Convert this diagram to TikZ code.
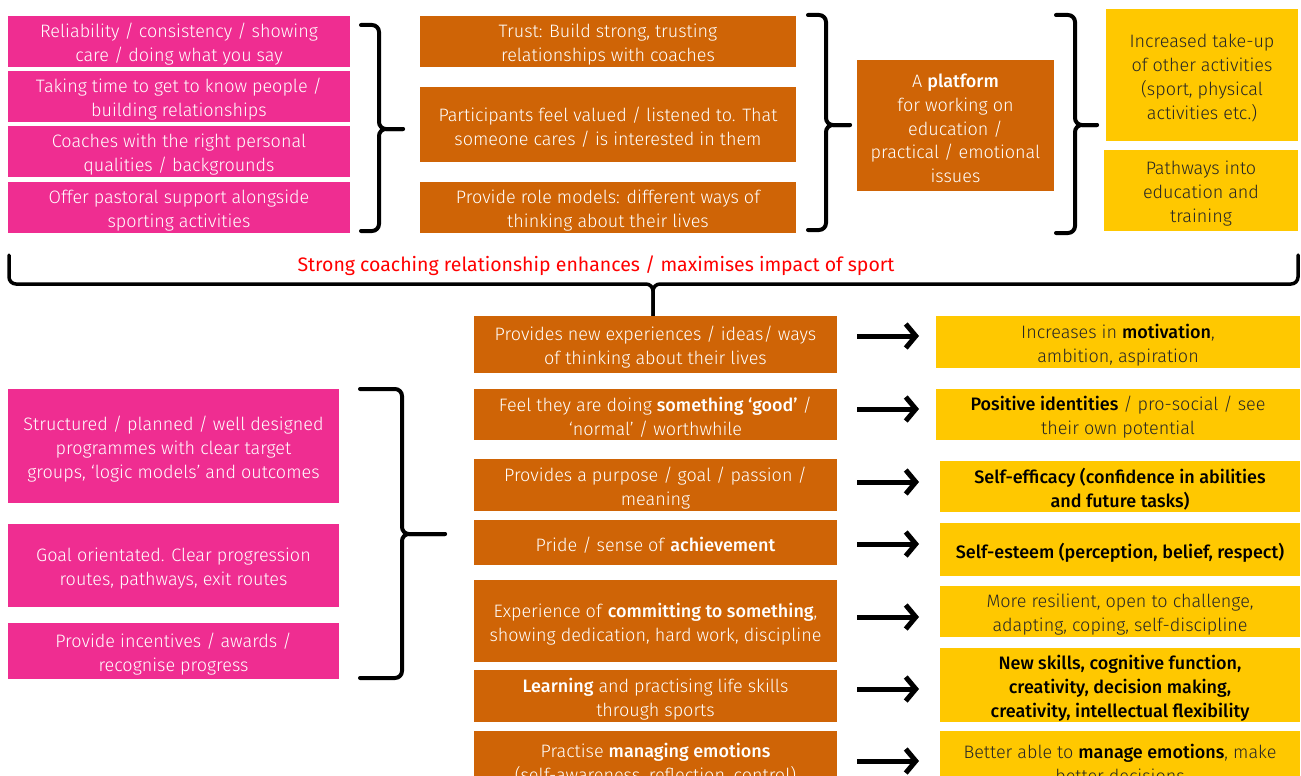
\documentclass[tikz,border=0pt]{standalone}
\usepackage{fontspec}
\setmainfont{Fira Sans}[UprightFont=* Light, BoldFont=* Medium]
\newfontfamily\redfont{Fira Sans}
\usetikzlibrary{arrows.meta}
\definecolor{cpink}{HTML}{EF2D91}
\definecolor{corange}{HTML}{CF6406}
\definecolor{cyellow}{HTML}{FFC800}
\definecolor{cred}{HTML}{FF0000}
\definecolor{cdark}{HTML}{262626}
\newcommand\boxnode[7]{%
  \node[#2, minimum width={(#5-#3)*1pt}, minimum height={(#6-#4)*1pt}] (#1) at ({(#3+#5)/2},{(#4+#6)/2}) {};
  \node[#2, fill=none] (#1t) at ([yshift=-3pt]#1.center) {#7};}
\newcommand\hb[1]{\textcolor{black}{\textbf{#1}}}
\begin{document}
\begin{tikzpicture}[x=1pt,y=-1pt,
  base/.style={inner sep=0pt, outer sep=0pt, align=center, font=\fontsize{18}{23.8}\selectfont},
  pinkbox/.style={base, fill=cpink, text=white},
  orangebox/.style={base, fill=corange, text=white},
  yellowbox/.style={base, fill=cyellow, text=cdark},
  yellowbold/.style={base, fill=cyellow, text=black, font=\fontsize{18}{23.8}\selectfont\bfseries},
  brk/.style={line width=4pt, rounded corners=7pt, line cap=round},
  arr/.style={line width=5pt, -{Straight Barb[length=10pt, width=24pt]}}]
\useasboundingbox (0,0) rectangle (1301,776);
\fill[white] (0,0) rectangle (1301,776);
\clip (0,0) rectangle (1301,776);

% top left pink
\boxnode{a1}{pinkbox}{8}{16}{350}{67}{Reliability / consistency / showing\\care / doing what you say}
\boxnode{a2}{pinkbox}{8}{71}{350}{122}{Taking time to get to know people /\\building relationships}
\boxnode{a3}{pinkbox}{8}{126}{350}{177}{Coaches with the right personal\\qualities / backgrounds}
\boxnode{a4}{pinkbox}{8}{182}{350}{233}{Offer pastoral support alongside\\sporting activities}

% top middle orange
\boxnode{t1}{orangebox}{420}{16}{796}{67}{Trust: Build strong, trusting\\relationships with coaches}
\boxnode{t2}{orangebox}{420}{87}{796}{162}{Participants feel valued / listened to. That\\someone cares / is interested in them}
\boxnode{t3}{orangebox}{420}{182}{796}{233}{Provide role models: different ways of\\thinking about their lives}

% platform
\boxnode{pf}{orangebox}{857}{60}{1054}{191}{A \textbf{platform}\\for working on\\education /\\practical / emotional\\issues}

% top right yellow
\boxnode{y1}{yellowbox}{1106}{9}{1298}{141}{Increased take-up\\of other activities\\(sport, physical\\activities etc.)}
\boxnode{y2}{yellowbox}{1104}{150}{1298}{231}{Pathways into\\education and\\training}

% braces top
\draw[brk] (361,25) -- (379,25) -- (379,129) -- (403,129);
\draw[brk] (403,129) -- (379,129) -- (379,231) -- (361,231);
\draw[brk] (808,15) -- (826,15) -- (826,125) -- (850,125);
\draw[brk] (850,125) -- (826,125) -- (826,230) -- (808,230);
\draw[brk] (1056,15) -- (1075,15) -- (1075,125) -- (1097,125);
\draw[brk] (1097,125) -- (1075,125) -- (1075,233) -- (1056,233);

% big brace
\draw[brk, line width=3.5pt] (9,255) -- (9,284) -- (653,284) -- (653,318);
\draw[brk, line width=3.5pt] (1298,255) -- (1298,284) -- (653,284) -- (653,318);
\node[inner sep=0pt, text=cred, font=\redfont\fontsize{19.5}{23}\selectfont] (title) at (596,266) {Strong coaching relationship enhances / maximises impact of sport};

% bottom left pink
\boxnode{p1}{pinkbox}{8}{389}{339}{503}{Structured / planned / well designed\\programmes with clear target\\groups, ‘logic models’ and outcomes}
\boxnode{p2}{pinkbox}{8}{524}{339}{607}{Goal orientated. Clear progression\\routes, pathways, exit routes}
\boxnode{p3}{pinkbox}{8}{623}{339}{679}{Provide incentives / awards /\\recognise progress}
\draw[brk] (360,389) -- (402,389) -- (402,534) -- (445,534);
\draw[brk] (445,534) -- (402,534) -- (402,678) -- (360,678);

% middle orange column
\boxnode{m1}{orangebox}{474}{316}{837}{373}{Provides new experiences / ideas/ ways\\of thinking about their lives}
\boxnode{m2}{orangebox}{474}{389}{837}{440}{Feel they are doing \textbf{something ‘good’} /\\‘normal’ / worthwhile}
\boxnode{m3}{orangebox}{474}{459}{837}{511}{Provides a purpose / goal / passion /\\meaning}
\boxnode{m4}{orangebox}{474}{520}{837}{565}{Pride / sense of \textbf{achievement}}
\boxnode{m5}{orangebox}{474}{580}{837}{662}{Experience of \textbf{committing to something},\\showing dedication, hard work, discipline}
\boxnode{m6}{orangebox}{474}{670}{837}{722}{\textbf{Learning} and practising life skills\\through sports}
\boxnode{m7}{orangebox}{474}{731}{837}{790}{Practise \textbf{managing emotions}\\(self-awareness, reflection, control)}

% right yellow column
\boxnode{r1}{yellowbox}{936}{316}{1300}{368}{Increases in \hb{motivation},\\ambition, aspiration}
\boxnode{r2}{yellowbox}{936}{389}{1300}{440}{\hb{Positive identities} / pro-social / see\\their own potential}
\boxnode{r3}{yellowbold}{940}{461}{1300}{512}{Self-efficacy (confidence in abilities\\and future tasks)}
\boxnode{r4}{yellowbold}{940}{523}{1300}{576}{Self-esteem (perception, belief, respect)}
\boxnode{r5}{yellowbox}{940}{586}{1300}{637}{More resilient, open to challenge,\\adapting, coping, self-discipline}
\boxnode{r6}{yellowbold}{940}{648}{1300}{722}{New skills, cognitive function,\\creativity, decision making,\\creativity, intellectual flexibility}
\boxnode{r7}{yellowbox}{940}{731}{1300}{790}{Better able to \hb{manage emotions}, make\\better decisions}

% arrows
\foreach \i/\y in {1/336,2/409,3/482,4/544,5/617,6/689,7/761}
  \draw[arr] (m\i.east |- 0,\y) ++(20,0) -- ++(62,0);
\end{tikzpicture}
\end{document}
